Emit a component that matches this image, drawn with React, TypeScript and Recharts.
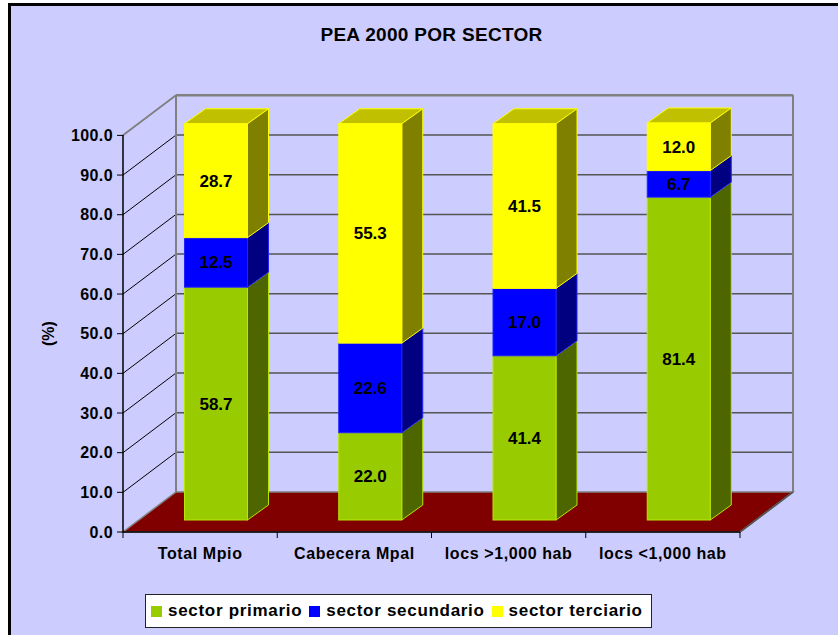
import React from 'react';
import { BarChart, Bar, XAxis, YAxis, CartesianGrid, Legend, LabelList } from 'recharts';

// ---------- data ----------
const categories = ['Total Mpio', 'Cabecera Mpal', 'locs >1,000 hab', 'locs <1,000 hab'];
const sectorPrimario = [58.7, 22.0, 41.4, 81.4];
const sectorSecundario = [12.5, 22.6, 17.0, 6.7];
const sectorTerciario = [28.7, 55.3, 41.5, 12.0];
const yTicks = [0, 10, 20, 30, 40, 50, 60, 70, 80, 90, 100];
const seriesNames = ['sector primario', 'sector secundario', 'sector terciario'];
const titleText = 'PEA 2000 POR SECTOR';
const yAxisTitle = '(%)';

const data = categories.map((c, i) => ({
  name: c,
  primario: sectorPrimario[i],
  secundario: sectorSecundario[i],
  terciario: sectorTerciario[i],
}));

// ---------- layout / style ----------
const W = 838;
const H = 635;
const Y_AXIS_W = 80;
const X_AXIS_H = 30;
const MARGIN = { top: 135, right: 98, bottom: 73, left: 43 };
const PLOT_W = W - MARGIN.left - Y_AXIS_W - MARGIN.right;
const BAND = PLOT_W / categories.length;
const WALL = { dx: 53, dy: -40 };
const BAR_SHIFT = { dx: 16, dy: -12 };
const BAR_DEPTH = { dx: 21, dy: -15 };
const FONT = '"Liberation Sans", Arial, Helvetica, sans-serif';
const BG = '#CCCCFF';

const SERIES = [
  { key: 'primario', fill: '#99CC00', side: '#4D6600', top: '#739900', edge: '#B8E600' },
  { key: 'secundario', fill: '#0000FF', side: '#000080', top: '#0000B0', edge: '#2222FF' },
  { key: 'terciario', fill: '#FFFF00', side: '#808000', top: '#C0C000', edge: '#FFFF00' },
];

const make3DBar = (s: any) => (props: any) => {
  const { x, y, width, height } = props;
  if (width == null || height == null || !isFinite(x) || !isFinite(y)) return <g />;
  const fx = x + BAR_SHIFT.dx;
  const fy = y + BAR_SHIFT.dy;
  const h = height;
  const dx = BAR_DEPTH.dx;
  const dy = BAR_DEPTH.dy;
  const top = `${fx},${fy} ${fx + width},${fy} ${fx + width + dx},${fy + dy} ${fx + dx},${fy + dy}`;
  const side = `${fx + width},${fy} ${fx + width + dx},${fy + dy} ${fx + width + dx},${fy + h + dy} ${fx + width},${fy + h}`;
  return (
    <g>
      <polygon points={top} fill={s.top} stroke={s.edge} strokeWidth={1} strokeLinejoin="round" />
      <polygon points={side} fill={s.side} stroke={s.edge} strokeWidth={1} strokeLinejoin="round" />
      <rect x={fx} y={fy} width={width} height={h} fill={s.fill} stroke={s.edge} strokeWidth={1} />
    </g>
  );
};

const renderValueLabel = (props: any) => {
  const { x, y, width, height, value } = props;
  if (value == null) return null;
  const cx = x + BAR_SHIFT.dx + width / 2;
  const cy = y + BAR_SHIFT.dy + height / 2;
  return (
    <text
      x={cx}
      y={cy}
      dy={6}
      textAnchor="middle"
      fontFamily={FONT}
      fontWeight="bold"
      fontSize={17}
      fill="#000"
    >
      {Number(value).toFixed(1)}
    </text>
  );
};

const renderGridLine = (props: any) => {
  const { x1, y1, x2, y, height, key } = props;
  const plotTop = y != null ? y : MARGIN.top;
  const plotBottom = y != null && height != null ? y + height : H - MARGIN.bottom - X_AXIS_H;
  const isFloor = Math.abs(y1 - plotBottom) < 0.5;
  const isTop = Math.abs(y1 - plotTop) < 0.5;
  const bx1 = x1 + WALL.dx;
  const bx2 = x2 + WALL.dx;
  const by = y1 + WALL.dy;
  if (isFloor) {
    return (
      <g key={key}>
        <polygon
          points={`${x1},${y1} ${x2},${y1} ${bx2},${by} ${bx1},${by}`}
          fill="#800000"
          stroke="#808080"
          strokeWidth={1.5}
        />
      </g>
    );
  }
  return (
    <g key={key}>
      <line x1={x1} y1={y1} x2={bx1} y2={by} stroke={isTop ? '#808080' : '#000'} strokeWidth={isTop ? 1.5 : 1} />
      <line x1={bx1} y1={by} x2={bx2} y2={by} stroke={isTop ? '#808080' : '#555555'} strokeWidth={isTop ? 2 : 1.5} />
      {isTop && (
        <>
          <line x1={bx1} y1={by} x2={bx1} y2={plotBottom + WALL.dy} stroke="#808080" strokeWidth={2} />
          <line x1={bx2} y1={by} x2={bx2} y2={plotBottom + WALL.dy} stroke="#808080" strokeWidth={2} />
          <line x1={x2} y1={plotBottom} x2={bx2} y2={plotBottom + WALL.dy} stroke="#555555" strokeWidth={1.5} />
        </>
      )}
    </g>
  );
};

const CategoryTick = (props: any) => {
  const { x, y, payload, index } = props;
  const last = index === categories.length - 1;
  return (
    <g>
      <line x1={x - BAND / 2} y1={y} x2={x - BAND / 2} y2={y + 6} stroke="#000" strokeWidth={1} />
      {last && <line x1={x + BAND / 2} y1={y} x2={x + BAND / 2} y2={y + 6} stroke="#000" strokeWidth={1} />}
      <text
        x={x}
        y={y + 27}
        textAnchor="middle"
        fontFamily={FONT}
        fontWeight="bold"
        fontSize={16}
        letterSpacing={0.6}
        fill="#000"
      >
        {payload.value}
      </text>
    </g>
  );
};

const YTitle = (props: any) => {
  const vb = props.viewBox || { x: MARGIN.left, y: MARGIN.top, width: Y_AXIS_W, height: 397 };
  const cx = vb.x + 4.5;
  const cy = vb.y + vb.height / 2;
  return (
    <text
      x={cx}
      y={cy}
      transform={`rotate(-90, ${cx}, ${cy})`}
      textAnchor="middle"
      dy={6}
      fontFamily={FONT}
      fontWeight="bold"
      fontSize={16}
      fill="#000"
    >
      {yAxisTitle}
    </text>
  );
};

const LegendContent = (props: any) => {
  const items = SERIES.map((s, i) => ({ color: s.fill, label: seriesNames[i] }));
  return (
    <div
      style={{
        width: '100%',
        height: '100%',
        boxSizing: 'border-box',
        background: '#FFFFFF',
        border: '1px solid #222',
        display: 'flex',
        alignItems: 'center',
        paddingLeft: 5,
        fontFamily: FONT,
        fontWeight: 'bold',
        fontSize: 17,
        letterSpacing: 0.7,
        color: '#000',
        whiteSpace: 'nowrap',
      }}
    >
      {items.map((it, i) => (
        <div key={i} style={{ display: 'flex', alignItems: 'center', marginRight: 7 }}>
          <span style={{ display: 'inline-block', width: 11, height: 11, background: it.color, marginRight: 6 }} />
          <span>{it.label}</span>
        </div>
      ))}
    </div>
  );
};

export default function App() {
  return (
    <div style={{ position: 'absolute', left: 0, top: 0, width: W, height: H, overflow: 'hidden', background: '#fff' }}>
      <div
        style={{
          position: 'absolute',
          left: 8,
          top: 3,
          width: 850,
          height: 650,
          boxSizing: 'border-box',
          border: '3px solid #000',
          background: BG,
        }}
      />
      <div
        style={{
          position: 'absolute',
          left: 0,
          top: 25,
          width: 863,
          textAlign: 'center',
          fontFamily: FONT,
          fontWeight: 'bold',
          fontSize: 19,
          lineHeight: '20px',
          letterSpacing: 0.3,
          color: '#000',
        }}
      >
        {titleText}
      </div>
      <div style={{ position: 'absolute', left: 0, top: 0 }}>
        <BarChart width={W} height={H} data={data} margin={MARGIN} barCategoryGap="29.5%">
          <CartesianGrid horizontal={renderGridLine as any} vertical={false} />
          <XAxis
            dataKey="name"
            height={X_AXIS_H}
            axisLine={{ stroke: '#000', strokeWidth: 1.5 }}
            tickLine={false}
            tickSize={0}
            tickMargin={0}
            interval={0}
            tick={<CategoryTick />}
          />
          <YAxis
            width={Y_AXIS_W}
            type="number"
            domain={[0, 100]}
            ticks={yTicks}
            interval={0}
            tickFormatter={(v: number) => v.toFixed(1)}
            axisLine={{ stroke: '#000', strokeWidth: 1.5 }}
            tickLine={{ stroke: '#000' }}
            tickSize={6}
            tickMargin={4}
            tick={{ fill: '#000', fontFamily: FONT, fontWeight: 'bold', fontSize: 16, letterSpacing: 0.4 }}
            label={<YTitle />}
          />
          <Legend
            layout="horizontal"
            verticalAlign="middle"
            align="center"
            wrapperStyle={{ left: 145, top: 594, width: 507, height: 34 }}
            content={<LegendContent />}
          />
          {SERIES.map((s, i) => (
            <Bar
              key={s.key}
              dataKey={s.key}
              name={seriesNames[i]}
              stackId="pea"
              fill={s.fill}
              isAnimationActive={false}
              shape={make3DBar(s)}
            >
              <LabelList dataKey={s.key} content={renderValueLabel} />
            </Bar>
          ))}
        </BarChart>
      </div>
    </div>
  );
}
